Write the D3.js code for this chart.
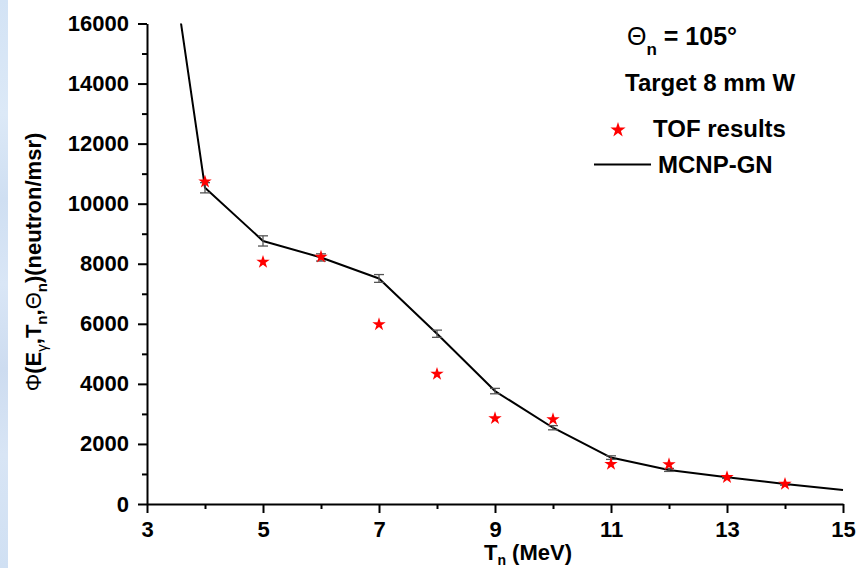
<!DOCTYPE html>
<html>
<head>
<meta charset="utf-8">
<script src="https://cdn.jsdelivr.net/npm/d3@7"></script>
<style>
  html, body { margin: 0; padding: 0; background: #ffffff; }
  svg { display: block; font-family: "Liberation Sans", Arial, sans-serif; }
</style>
</head>
<body>
<svg id="chart" width="866" height="568"></svg>
<script>
// Neutron energy (MeV) for the TOF measurements
const tofEnergy = [4, 5, 6, 7, 8, 9, 10, 11, 12, 13, 14];
// TOF results, neutron/msr
const tofFlux = [10730, 8060, 8230, 5980, 4330, 2850, 2820, 1330, 1320, 890, 665];

// MCNP-GN simulation curve
const mcnpEnergy = [3.5, 4, 5, 6, 7, 8, 9, 10, 11, 12, 13, 14, 15];
const mcnpFlux = [17150, 10530, 8760, 8210, 7510, 5670, 3760, 2540, 1545, 1135, 890, 665, 470];
// statistical uncertainty of the simulation (0 = no bar drawn)
const mcnpErr = [0, 170, 170, 120, 130, 120, 90, 70, 60, 50, 40, 40, 0];

// Axis ticks
const xMajorTicks = [3, 5, 7, 9, 11, 13, 15];
const xMinorTicks = [4, 6, 8, 10, 12, 14];
const yMajorTicks = [0, 2000, 4000, 6000, 8000, 10000, 12000, 14000, 16000];
const yMinorTicks = [1000, 3000, 5000, 7000, 9000, 11000, 13000, 15000];

const svg = d3.select("#chart");

// Light blue strip at the left edge of the slide
const defs = svg.append("defs");
const grad = defs.append("linearGradient").attr("id", "strip")
  .attr("x1", 0).attr("y1", 0).attr("x2", 0).attr("y2", 1);
[["0", "#d3e3f5"], ["0.2", "#dce9f7"], ["0.35", "#cfdff2"], ["0.5", "#d9e6f6"],
 ["0.65", "#cddcf0"], ["0.8", "#d8e5f5"], ["1", "#d0e0f3"]]
  .forEach(([o, c]) => grad.append("stop").attr("offset", o).attr("stop-color", c));
svg.append("rect").attr("x", 0).attr("y", 0).attr("width", 8).attr("height", 568)
  .attr("fill", "url(#strip)");

const x = d3.scaleLinear().domain([3, 15]).range([147, 843]);
const y = d3.scaleLinear().domain([0, 16000]).range([504, 23.5]);

defs.append("clipPath").attr("id", "plotClip")
  .append("rect")
  .attr("x", x(3)).attr("y", y(16000))
  .attr("width", x(15) - x(3) + 4).attr("height", y(0) - y(16000));

// Axes
function styleAxis(g) {
  g.attr("font-family", null).attr("font-size", null);
  g.selectAll("path.domain").attr("stroke", "#000").attr("stroke-width", 2);
  g.selectAll(".tick line").attr("stroke", "#000").attr("stroke-width", 2);
  g.selectAll(".tick text")
    .attr("fill", "#000")
    .style("font-size", "22px")
    .style("font-weight", "bold");
}

svg.append("g")
  .attr("transform", `translate(0,${y(0)})`)
  .call(d3.axisBottom(x).tickValues(xMinorTicks).tickSize(5).tickFormat(""))
  .call(g => { g.select("path.domain").remove(); styleAxis(g); });

svg.append("g")
  .attr("transform", `translate(${x(3)},0)`)
  .call(d3.axisLeft(y).tickValues(yMinorTicks).tickSize(5).tickFormat(""))
  .call(g => { g.select("path.domain").remove(); styleAxis(g); });

svg.append("g")
  .attr("transform", `translate(0,${y(0)})`)
  .call(d3.axisBottom(x).tickValues(xMajorTicks).tickSize(9).tickSizeOuter(0)
        .tickPadding(8).tickFormat(d3.format("d")))
  .call(styleAxis);

svg.append("g")
  .attr("transform", `translate(${x(3)},0)`)
  .call(d3.axisLeft(y).tickValues(yMajorTicks).tickSize(9).tickSizeOuter(0)
        .tickPadding(9).tickFormat(d3.format("d")))
  .call(styleAxis);

// Axis titles
const xTitle = svg.append("text")
  .attr("x", 528).attr("y", 560)
  .attr("text-anchor", "middle")
  .style("font-size", "22px").style("font-weight", "bold");
xTitle.append("tspan").text("T");
xTitle.append("tspan").attr("dy", 5).style("font-size", "14px").text("n");
xTitle.append("tspan").attr("dy", -5).text(" (MeV)");

const yTitle = svg.append("text")
  .attr("transform", "translate(41,262) rotate(-90)")
  .attr("text-anchor", "middle")
  .style("font-size", "22px").style("font-weight", "bold");
yTitle.append("tspan").style("font-weight", "normal").text("Φ");
yTitle.append("tspan").text("(E");
yTitle.append("tspan").attr("dy", 6).style("font-size", "15px").style("font-weight", "normal").text("γ");
yTitle.append("tspan").attr("dy", -6).text(",T");
yTitle.append("tspan").attr("dy", 6).style("font-size", "15px").text("n");
yTitle.append("tspan").attr("dy", -6).text(",");
yTitle.append("tspan").style("font-weight", "normal").text("Θ");
yTitle.append("tspan").attr("dy", 6).style("font-size", "15px").text("n");
yTitle.append("tspan").attr("dy", -6).text(")(neutron/msr)");

// MCNP-GN curve
const mcnp = mcnpEnergy.map((e, i) => ({ e, v: mcnpFlux[i], err: mcnpErr[i] }));

svg.append("path")
  .datum(mcnp)
  .attr("clip-path", "url(#plotClip)")
  .attr("fill", "none")
  .attr("stroke", "#000")
  .attr("stroke-width", 2)
  .attr("stroke-linejoin", "round")
  .attr("d", d3.line().x(d => x(d.e)).y(d => y(d.v)));

// Error bars on the simulation
const eb = svg.append("g").attr("stroke", "#555").attr("stroke-width", 1.3)
  .selectAll("g").data(mcnp.filter(d => d.err > 0)).join("g");
eb.append("line")
  .attr("x1", d => x(d.e)).attr("x2", d => x(d.e))
  .attr("y1", d => y(d.v - d.err)).attr("y2", d => y(d.v + d.err));
eb.append("line")
  .attr("x1", d => x(d.e) - 5).attr("x2", d => x(d.e) + 5)
  .attr("y1", d => y(d.v - d.err)).attr("y2", d => y(d.v - d.err));
eb.append("line")
  .attr("x1", d => x(d.e) - 5).attr("x2", d => x(d.e) + 5)
  .attr("y1", d => y(d.v + d.err)).attr("y2", d => y(d.v + d.err));

// TOF results
const star = d3.symbol().type(d3.symbolStar).size(56);
svg.append("g").selectAll("path")
  .data(tofEnergy.map((e, i) => ({ e, v: tofFlux[i] })))
  .join("path")
  .attr("transform", d => `translate(${x(d.e)},${y(d.v)})`)
  .attr("d", star)
  .attr("fill", "#ff0000");

// Annotation and legend
const ann = svg.append("text").attr("x", 627).attr("y", 45)
  .style("font-size", "25px").style("font-weight", "bold");
ann.append("tspan").style("font-weight", "normal").text("Θ");
ann.append("tspan").attr("dy", 10).style("font-size", "17px").text("n");
ann.append("tspan").attr("dy", -10).text(" = 105°");

svg.append("text").attr("x", 625).attr("y", 91)
  .style("font-size", "24px").style("font-weight", "bold")
  .text("Target 8 mm W");

svg.append("path")
  .attr("transform", "translate(618,130)")
  .attr("d", d3.symbol().type(d3.symbolStar).size(72)())
  .attr("fill", "#ff0000");
svg.append("text").attr("x", 653).attr("y", 137)
  .style("font-size", "24px").style("font-weight", "bold")
  .text("TOF results");

svg.append("line")
  .attr("x1", 594).attr("x2", 651).attr("y1", 164.5).attr("y2", 164.5)
  .attr("stroke", "#000").attr("stroke-width", 2);
svg.append("text").attr("x", 658).attr("y", 173)
  .style("font-size", "24px").style("font-weight", "bold")
  .text("MCNP-GN");
</script>
</body>
</html>
